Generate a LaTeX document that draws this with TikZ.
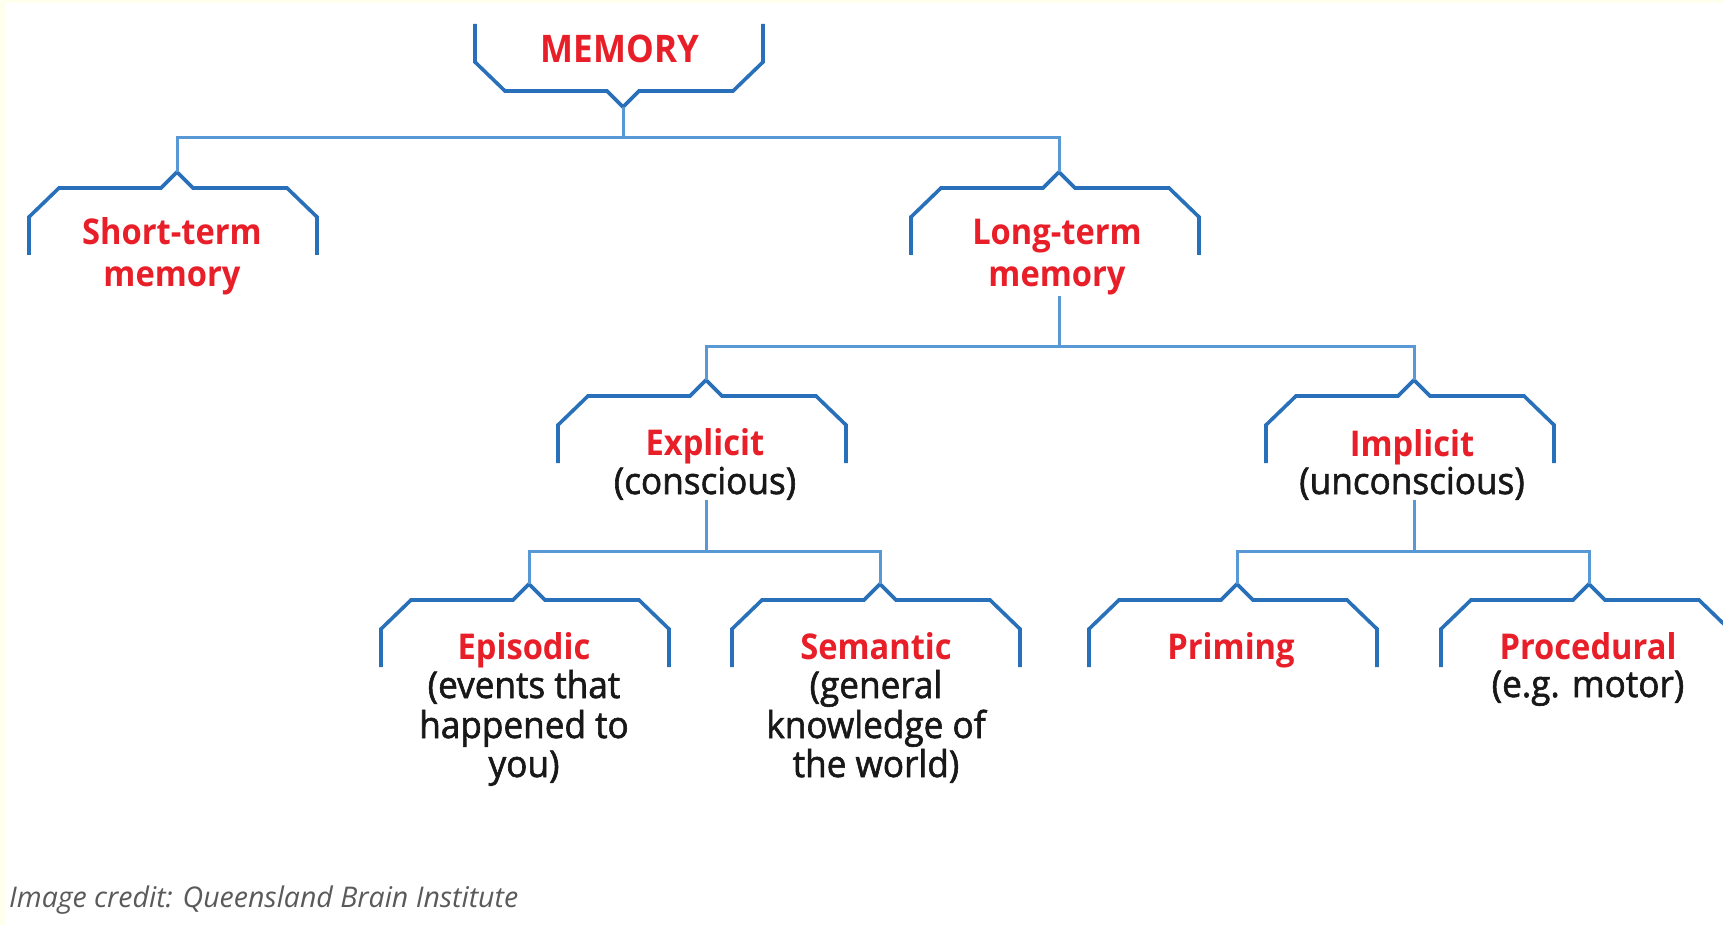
\documentclass[tikz,border=0pt]{standalone}
\usepackage{fontspec}
\setmainfont{Open Sans}
\newfontfamily\headfont[FakeStretch=0.92]{Open Sans}
\newfontfamily\notefont[FakeStretch=0.95,FakeBold=1.6]{Open Sans}

\definecolor{brkblue}{RGB}{40,112,186}
\definecolor{barblue}{RGB}{88,152,212}
\definecolor{memred}{RGB}{232,30,40}
\definecolor{inkblack}{RGB}{24,24,24}
\definecolor{creditgray}{RGB}{90,90,90}
\definecolor{cream}{RGB}{255,255,238}

\tikzset{
  brkline/.style={draw=brkblue, line width=3.6pt, line join=miter},
  barline/.style={draw=barblue, line width=3pt, line join=miter},
  head/.style={text=memred, font=\headfont\bfseries\fontsize{35.5}{40}\selectfont,
               inner sep=0pt, anchor=base},
  note/.style={text=inkblack, font=\notefont\fontsize{37}{40}\selectfont,
               inner sep=0pt, anchor=base},
  credit/.style={text=creditgray, font=\itshape\fontsize{28.5}{30}\selectfont,
                 inner sep=0pt, anchor=base west},
  % a brace-like bracket, origin at its pointed tip
  brk/.pic={
    \coordinate (-tip) at (0,0);
    \path[brkline] (-148,83) -- (-148,45) -- (-118,16) -- (-16,16) -- (0,0)
                   -- (16,16) -- (110,16) -- (140,45) -- (140,83);
  }
}

\begin{document}
\begin{tikzpicture}[x=1pt,y=-1pt]
  \useasboundingbox (0,0) rectangle (1723,925);
  \clip (0,0) rectangle (1723,925);
  \fill[white] (0,0) rectangle (1723,925);
  \fill[cream] (0,0) rectangle (6,925);
  \fill[cream] (0,0) rectangle (1723,3);

  % brackets
  \pic[yscale=-1] (mem) at (623,107) {brk};
  \pic (stm) at (177,172) {brk};
  \pic (ltm) at (1059,172) {brk};
  \pic (exp) at (706,380) {brk};
  \pic (imp) at (1414,380) {brk};
  \pic (epi) at (529,584) {brk};
  \pic (sem) at (880,584) {brk};
  \pic (pri) at (1237,584) {brk};
  \pic (pro) at (1589,584) {brk};

  % labels
  \node[head, font=\headfont\bfseries\fontsize{38}{42}\selectfont] (memA) at (620,63) {MEMORY};
  \node[head] (stmA) at (172,245) {Short-term};
  \node[head] (stmB) at (172,287) {memory};
  \node[head] (ltmA) at (1057,245) {Long-term};
  \node[head] (ltmB) at (1057,287) {memory};
  \node[head] (expA) at (705,455) {Explicit};
  \node[note] (expB) at (705,494) {(conscious)};
  \node[head] (impA) at (1412,456) {Implicit};
  \node[note] (impB) at (1412,494) {(unconscious)};
  \node[head] (epiA) at (524,659) {Episodic};
  \node[note] (epiB) at (524,698) {(events that};
  \node[note] (epiC) at (524,738) {happened to};
  \node[note] (epiD) at (524,777) {you)};
  \node[head] (semA) at (876,659) {Semantic};
  \node[note] (semB) at (876,698) {(general};
  \node[note] (semC) at (876,738) {knowledge of};
  \node[note] (semD) at (876,777) {the world)};
  \node[head] (priA) at (1231,659) {Priming};
  \node[head] (proA) at (1588,659) {Procedural};
  \node[note] (proB) at (1588,697) {(e.g. motor)};
  \node[credit] (cred) at (9,907) {Image credit: Queensland Brain Institute};

  % connectors
  \coordinate (bar1) at (0,138);
  \coordinate (bar2) at (0,346);
  \coordinate (bar3) at (0,551);
  \draw[barline] (mem-tip) -- (mem-tip |- bar1);
  \draw[barline] (stm-tip) |- (bar1 -| ltm-tip) -- (ltm-tip);
  \draw[barline] (ltm-tip |- ltmB.south) -- (ltm-tip |- bar2);
  \draw[barline] (exp-tip) |- (bar2 -| imp-tip) -- (imp-tip);
  \draw[barline] (exp-tip |- expB.south) -- (exp-tip |- bar3);
  \draw[barline] (epi-tip) |- (bar3 -| sem-tip) -- (sem-tip);
  \draw[barline] (imp-tip |- impB.south) -- (imp-tip |- bar3);
  \draw[barline] (pri-tip) |- (bar3 -| pro-tip) -- (pro-tip);
\end{tikzpicture}
\end{document}
